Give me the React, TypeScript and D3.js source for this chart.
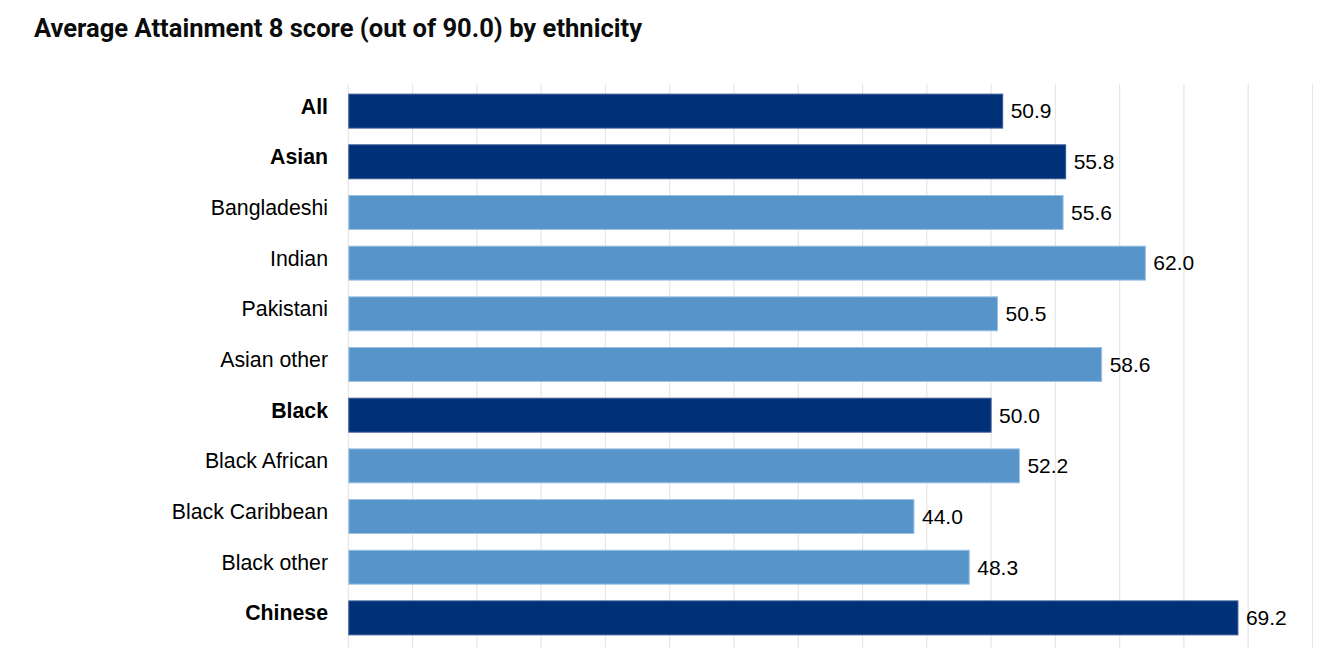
import React, { useEffect } from "react";
import * as d3 from "d3";

const categories = ["All", "Asian", "Bangladeshi", "Indian", "Pakistani", "Asian other", "Black", "Black African", "Black Caribbean", "Black other", "Chinese"];
const values = [50.9, 55.8, 55.6, 62.0, 50.5, 58.6, 50.0, 52.2, 44.0, 48.3, 69.2];
const isGroup = [true, true, false, false, false, false, true, false, false, false, true];
const gridTicks = d3.range(0, 80, 5);
const title = "Average Attainment 8 score (out of 90.0) by ethnicity";

const W = 1337;
const H = 648;
const DARK = "#003078";
const LIGHT = "#5694ca";

export default function App() {
  useEffect(() => {
    document.body.style.margin = "0";
  }, []);

  const x = d3.scaleLinear().domain([0, 75]).range([348.3, 1312.5]);
  const y = d3
    .scaleBand<string>()
    .domain(categories)
    .range([84, 645])
    .paddingInner(0.33)
    .paddingOuter(0.2);

  return (
    <svg width={W} height={H} style={{ display: "block" }}>
      <rect width={W} height={H} fill="#fff" />
      <text
        x={34}
        y={36.5}
        fontFamily="Roboto, 'Noto Sans', sans-serif"
        fontWeight={700}
        fontSize={25}
        fill="#0b0c0c"
        textLength={608}
        lengthAdjust="spacingAndGlyphs"
      >
        {title}
      </text>
      {gridTicks.map((t) => (
        <line key={t} x1={x(t)} x2={x(t)} y1={84} y2={H} stroke="#e6e6e6" strokeWidth={1.2} />
      ))}
      {categories.map((c, i) => {
        const yy = y(c)!;
        const bw = y.bandwidth();
        return (
          <g key={c}>
            <rect
              x={x(0) + 0.5}
              y={yy}
              width={x(values[i]) - x(0) - 0.5}
              height={bw}
              fill={isGroup[i] ? DARK : LIGHT}
              stroke={isGroup[i] ? "#3a5a96" : "#9cc2e4"}
              strokeWidth={1}
            />
            <text
              x={328}
              y={yy + bw / 2 - 5}
              dy="0.35em"
              textAnchor="end"
              fontFamily="'Liberation Sans', Arial, sans-serif"
              fontSize={21.3}
              fontWeight={isGroup[i] ? 700 : 400}
              fill="#000"
            >
              {c}
            </text>
            <text
              x={x(values[i]) + 8}
              y={yy + bw / 2}
              dy="0.35em"
              fontFamily="'Liberation Sans', Arial, sans-serif"
              fontSize={21}
              fill="#000"
            >
              {values[i].toFixed(1)}
            </text>
          </g>
        );
      })}
    </svg>
  );
}
